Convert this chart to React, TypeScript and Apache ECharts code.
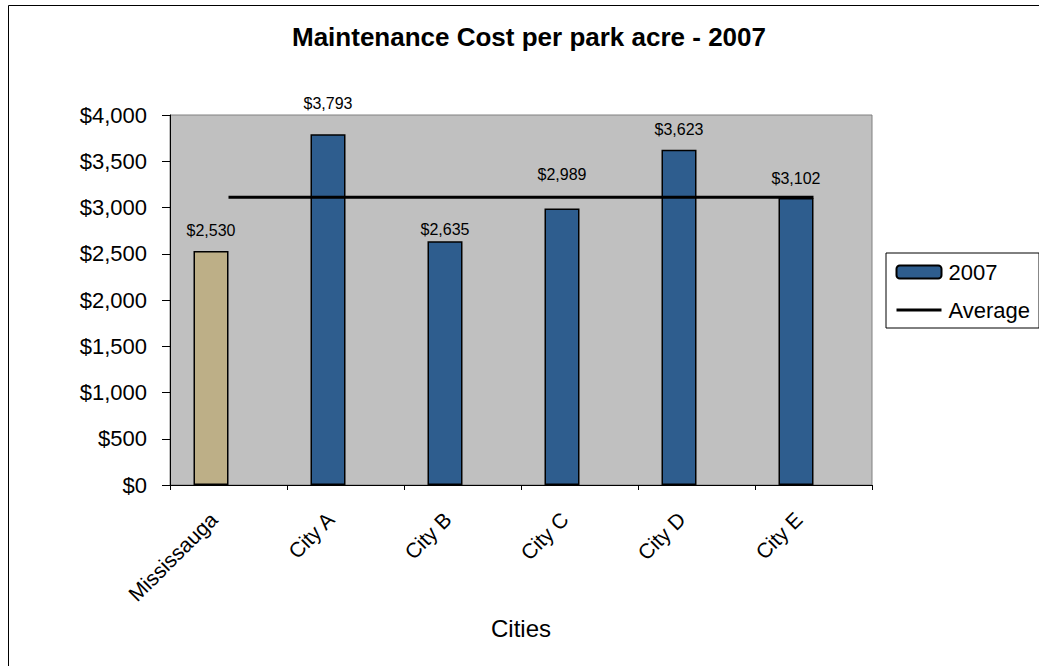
import React, { useEffect, useRef } from "react";
import * as echarts from "echarts";

const categories = ["Mississauga", "City A", "City B", "City C", "City D", "City E"];
const costs2007 = [2530, 3793, 2635, 2989, 3623, 3102];
const averageValues = [3112, 3112, 3112, 3112, 3112, 3112];
const yTicks = [0, 500, 1000, 1500, 2000, 2500, 3000, 3500, 4000];

// styling only
const labelDistances = [12, 23, 4, 26, 12, 12];
const barColors = ["#BDAF87", "#2E5D8E", "#2E5D8E", "#2E5D8E", "#2E5D8E", "#2E5D8E"];

const fmt = (v: number) => "$" + String(v).replace(/\B(?=(\d{3})+(?!\d))/g, ",");
const FONT = "Liberation Sans, Arial, sans-serif";

export default function App() {
  const ref = useRef<HTMLDivElement>(null);
  useEffect(() => {
    document.body.style.margin = "0";
    if (!ref.current) return;
    const chart = echarts.init(ref.current, undefined, { renderer: "svg" });
    chart.setOption({
      animation: false,
      backgroundColor: "#ffffff",
      textStyle: { fontFamily: FONT },
      title: {
        text: "Maintenance Cost per park acre - 2007",
        left: 287,
        top: 19,
        textStyle: { fontFamily: FONT, fontSize: 26, fontWeight: "bold", color: "#000" },
      },
      graphic: [
        {
          type: "rect",
          shape: { x: 8.5, y: 5.5, width: 1100, height: 700 },
          style: { fill: "none", stroke: "#000", lineWidth: 1 },
          silent: true,
          z: -1,
        },
      ],
      legend: {
        data: [
          "2007",
          { name: "Average", itemStyle: { color: "rgba(0,0,0,0)", borderWidth: 0, opacity: 0 } },
        ],
        orient: "vertical",
        left: 886,
        top: 253,
        padding: [8, 9, 7, 9],
        itemGap: 16,
        itemWidth: 45,
        itemHeight: 13,
        borderColor: "#000",
        borderWidth: 1,
        backgroundColor: "#fff",
        lineStyle: { width: 3 },
        textStyle: { fontFamily: FONT, fontSize: 22, color: "#000", padding: [0, 0, 0, 2] },
      },
      grid: {
        left: 170,
        right: 167,
        top: 115,
        bottom: 181,
        show: true,
        backgroundColor: "#C0C0C0",
        borderColor: "#808080",
        borderWidth: 1,
      },
      xAxis: {
        type: "category",
        data: categories,
        name: "Cities",
        nameLocation: "middle",
        nameGap: 131,
        nameTextStyle: { fontFamily: FONT, fontSize: 24, color: "#000" },
        axisLine: { lineStyle: { color: "#000", width: 1 } },
        axisTick: { show: true, length: 5, lineStyle: { color: "#000" } },
        axisLabel: {
          rotate: 45,
          margin: 16,
          padding: [0, 21, 0, 0],
          fontFamily: FONT,
          fontSize: 21,
          color: "#000",
        },
      },
      yAxis: {
        type: "value",
        min: yTicks[0],
        max: yTicks[yTicks.length - 1],
        interval: yTicks[1] - yTicks[0],
        axisLine: { show: true, lineStyle: { color: "#000", width: 1 } },
        axisTick: { show: true, length: 8, lineStyle: { color: "#000" } },
        splitLine: { show: false },
        axisLabel: {
          margin: 23,
          fontFamily: FONT,
          fontSize: 22,
          color: "#000",
          formatter: (v: number) => fmt(v),
        },
      },
      series: [
        {
          name: "2007",
          type: "bar",
          barWidth: 35,
          barGap: "0%",
          itemStyle: { color: "#2E5D8E", borderColor: "#000", borderWidth: 1.5 },
          data: costs2007.map((v, i) => ({
            value: v,
            itemStyle: { color: barColors[i] },
            label: { distance: labelDistances[i] },
          })),
          label: {
            show: true,
            position: "top",
            fontFamily: FONT,
            fontSize: 16,
            color: "#000",
            formatter: (p: any) => fmt(p.value),
          },
          z: 2,
        },
        {
          name: "_spacer",
          type: "bar",
          barWidth: 35,
          barGap: "0%",
          data: categories.map(() => null),
          silent: true,
        },
        {
          name: "Average",
          type: "line",
          data: averageValues,
          symbol: "none",
          lineStyle: { color: "#000", width: 3 },
          itemStyle: { color: "#000" },
          z: 5,
        },
      ],
    });
    return () => chart.dispose();
  }, []);
  return <div ref={ref} style={{ width: 1039, height: 666 }} />;
}
